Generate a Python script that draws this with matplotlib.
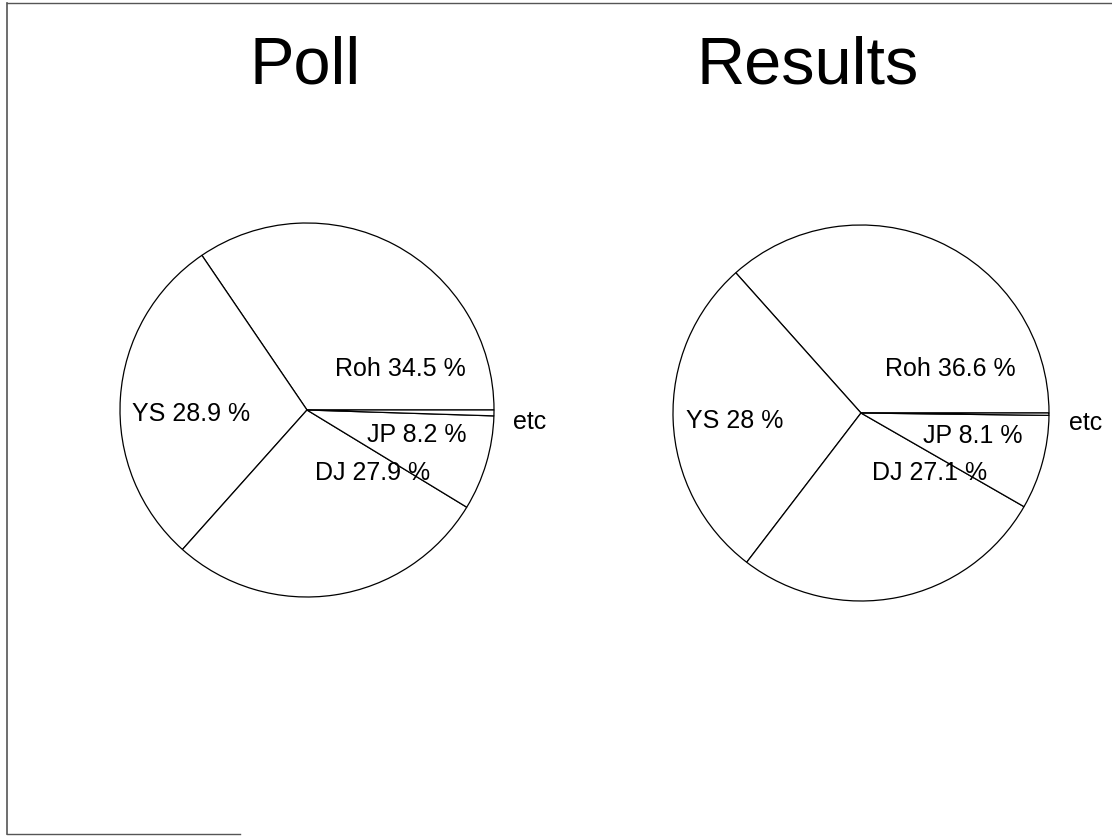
import matplotlib.pyplot as plt
from matplotlib.lines import Line2D

plt.rcParams['font.family'] = ['Liberation Sans', 'DejaVu Sans']

# Poll vs. actual results, percent of vote
candidates = ['Roh', 'YS', 'DJ', 'JP', 'etc']
poll_share = [34.5, 28.9, 27.9, 8.2, 0.5]
result_share = [36.6, 28.0, 27.1, 8.1, 0.2]
titles = ['Poll', 'Results']

W, H = 1112, 837
fig = plt.figure(figsize=(W / 100, H / 100), dpi=100)
fig.patch.set_facecolor('white')

# pie centre (px from top-left), radius in px, title centre x
pie_boxes = [(307, 411, 187, 305), (861, 414, 188, 808)]

# label anchors in pie-radius units (x centre, baseline)
label_pos = [
    [(0.497, 0.187), (-0.620, -0.053), (0.353, -0.369), (0.588, -0.166), (1.193, -0.096)],
    [(0.473, 0.202), (-0.670, -0.074), (0.367, -0.351), (0.596, -0.154), (1.197, -0.085)],
]


def label_text(name, val):
    if name == 'etc':
        return 'etc'
    return f'{name} {val:g} %'


for shares, title, (cx, cy, r, tx), pos in zip(
        [poll_share, result_share], titles, pie_boxes, label_pos):
    ax = fig.add_axes([(cx - r) / W, 1 - (cy + r) / H, 2 * r / W, 2 * r / H])
    ax.pie(shares, startangle=0, counterclock=True,
           colors=['white'] * len(shares),
           wedgeprops=dict(edgecolor='black', linewidth=0.9))
    ax.set_xlim(-1, 1)
    ax.set_ylim(-1, 1)
    ax.set_aspect('equal')
    ax.axis('off')
    for name, val, (lx, ly) in zip(candidates, shares, pos):
        ax.text(lx, ly, label_text(name, val), ha='center', va='baseline',
                fontsize=18, color='black')
    fig.text(tx / W, 1 - 84 / H, title, ha='center', va='baseline',
             fontsize=48, color='black')

# thin slide frame
frame = '#555555'
fig.add_artist(Line2D([7 / W, 7 / W], [1 - 4 / H, 1 - 835 / H],
                      color=frame, linewidth=1.2))
fig.add_artist(Line2D([7 / W, 1], [1 - 4 / H, 1 - 4 / H],
                      color=frame, linewidth=1.0))
fig.add_artist(Line2D([7 / W, 240 / W], [1 - 835 / H, 1 - 835 / H],
                      color=frame, linewidth=1.0))

fig.savefig('out.png', dpi=100)
